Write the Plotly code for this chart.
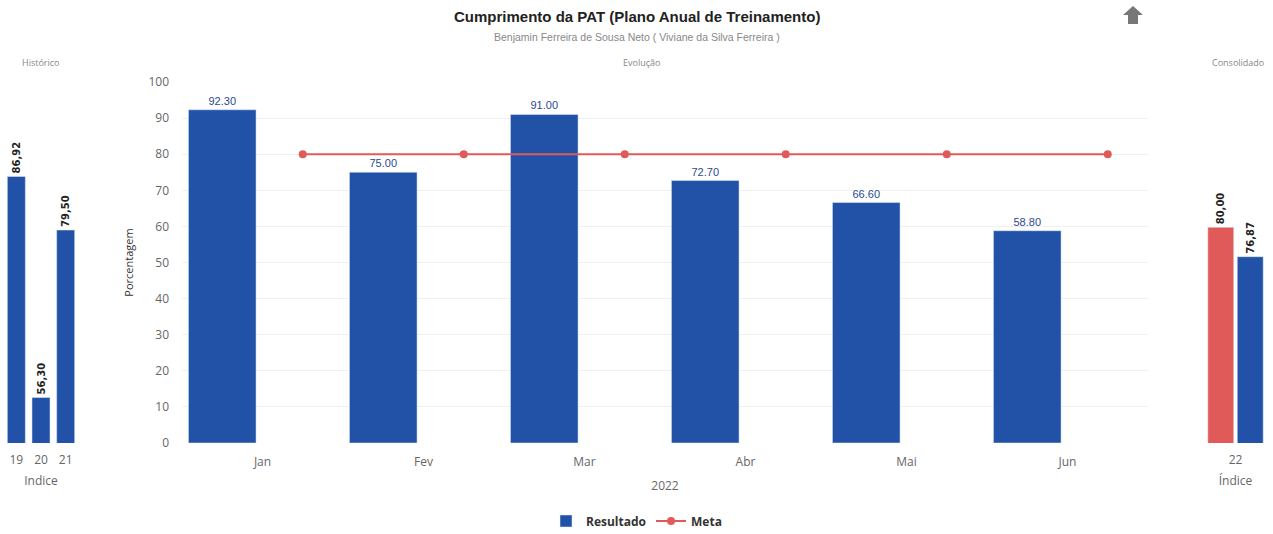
import plotly.graph_objects as go

# --- data ---
meses = ["Jan", "Fev", "Mar", "Abr", "Mai", "Jun"]
resultado = [92.30, 75.00, 91.00, 72.70, 66.60, 58.80]
meta = [80, 80, 80, 80, 80, 80]

hist_anos = ["19", "20", "21"]
hist_valores = [86.92, 56.30, 79.50]

cons_ano = ["22"]
cons_meta = [80.00]
cons_resultado = [76.87]

AZUL = "#2152a8"
VERMELHO = "#e05a5a"
W, H = 1273, 534


def px_x(p):
    return p / W


def px_y(p):
    return 1 - p / H


y_dom = [px_y(443), px_y(82)]

side_text = dict(size=10, color="#222", family="DejaVu Sans", weight="bold")

fig = go.Figure()

# Histórico panel
fig.add_trace(go.Bar(
    x=hist_anos, y=hist_valores, marker_color=AZUL, showlegend=False,
    text=[f"{v:.2f}".replace(".", ",") for v in hist_valores],
    textposition="outside", textangle=-90, cliponaxis=False,
    constraintext="none", textfont=side_text,
    xaxis="x", yaxis="y", hoverinfo="skip"))

# Evolução panel
pos = list(range(len(meses)))
fig.add_trace(go.Bar(
    x=pos, y=resultado, name="Resultado", marker_color=AZUL,
    offset=-0.46, width=0.42,
    text=[f"{v:.2f}" for v in resultado], textposition="outside",
    cliponaxis=False, constraintext="none",
    textfont=dict(size=11, color="#2b4a8f", family="Liberation Sans, Arial"),
    xaxis="x2", yaxis="y2"))
fig.add_trace(go.Scatter(
    x=[p + 0.25 for p in pos], y=meta, name="Meta", mode="lines+markers",
    line=dict(color=VERMELHO, width=2), marker=dict(size=8, color=VERMELHO),
    xaxis="x2", yaxis="y2"))

# Consolidado panel
fig.add_trace(go.Bar(
    x=cons_ano, y=cons_meta, marker_color=VERMELHO, showlegend=False,
    text=[f"{v:.2f}".replace(".", ",") for v in cons_meta],
    textposition="outside", textangle=-90, cliponaxis=False,
    constraintext="none", textfont=side_text,
    xaxis="x3", yaxis="y3"))
fig.add_trace(go.Bar(
    x=cons_ano, y=cons_resultado, marker_color=AZUL, showlegend=False,
    text=[f"{v:.2f}".replace(".", ",") for v in cons_resultado],
    textposition="outside", textangle=-90, cliponaxis=False,
    constraintext="none", textfont=side_text,
    xaxis="x3", yaxis="y3"))

tick_font = dict(size=12, color="#666")
axis_title_font = dict(size=12, color="#666")


def note(text, x, y, size, color, **kw):
    return dict(text=text, x=px_x(x), y=px_y(y), xref="paper", yref="paper",
                xanchor="center", yanchor="middle", showarrow=False,
                font=dict(size=size, color=color, **kw))


fig.update_layout(
    width=W, height=H,
    margin=dict(l=0, r=0, t=0, b=0, autoexpand=False),
    paper_bgcolor="white", plot_bgcolor="white",
    font=dict(family="Open Sans, Arial, sans-serif"),
    barmode="group", bargap=0.17, bargroupgap=0.12,
    xaxis=dict(domain=[px_x(4), px_x(78)], tickfont=tick_font, automargin=False,
               title=dict(text="Indice", font=axis_title_font, standoff=9),
               ticklabelstandoff=8, showgrid=False, ticks=""),
    yaxis=dict(domain=y_dom, range=[50, 100], showticklabels=False, automargin=False,
               showgrid=False, zeroline=False),
    xaxis2=dict(domain=[px_x(182), px_x(1148)], range=[-0.5, 5.5], automargin=False,
                tickvals=pos, ticktext=meses, tickfont=tick_font,
                ticklabelstandoff=10,
                title=dict(text="2022", font=axis_title_font, standoff=12),
                showgrid=False, zeroline=False, anchor="y2"),
    yaxis2=dict(domain=y_dom, range=[0, 100], dtick=10, tickfont=tick_font,
                gridcolor="#f0f0f0", zeroline=False, anchor="x2", automargin=False,
                title=dict(text="Porcentagem", font=dict(size=11, color="#333"),
                           standoff=12),
                ticklabelstandoff=12),
    xaxis3=dict(domain=[px_x(1200), px_x(1271)], tickfont=tick_font, automargin=False,
                title=dict(text="Índice", font=axis_title_font, standoff=9),
                ticklabelstandoff=8, showgrid=False, anchor="y3"),
    yaxis3=dict(domain=y_dom, range=[57, 95.5], showticklabels=False, automargin=False,
                showgrid=False, zeroline=False, anchor="x3"),
    legend=dict(orientation="h", x=0.5, xanchor="center", y=px_y(521),
                yanchor="middle", font=dict(size=12, color="#333", weight="bold")),
    annotations=[
        note("<b>Cumprimento da PAT (Plano Anual de Treinamento)</b>", 637, 17, 15,
             "#222", family="Liberation Sans, Arial"),
        note("Benjamin Ferreira de Sousa Neto ( Viviane da Silva Ferreira )",
             637, 37, 10.5, "#888", family="Liberation Sans, Arial"),
        note("Histórico", 41, 62, 9, "#888"),
        note("Evolução", 641, 62, 9, "#888"),
        note("Consolidado", 1238, 62, 9, "#888"),
    ],
    shapes=[
        dict(type="path", xref="paper", yref="paper",
             path=(f"M {px_x(1133)} {px_y(6)} L {px_x(1143)} {px_y(15)} "
                   f"L {px_x(1138)} {px_y(15)} L {px_x(1138)} {px_y(24)} "
                   f"L {px_x(1128)} {px_y(24)} L {px_x(1128)} {px_y(15)} "
                   f"L {px_x(1123)} {px_y(15)} Z"),
             fillcolor="#777", line=dict(width=0)),
    ],
)

fig.write_html("out.html")
